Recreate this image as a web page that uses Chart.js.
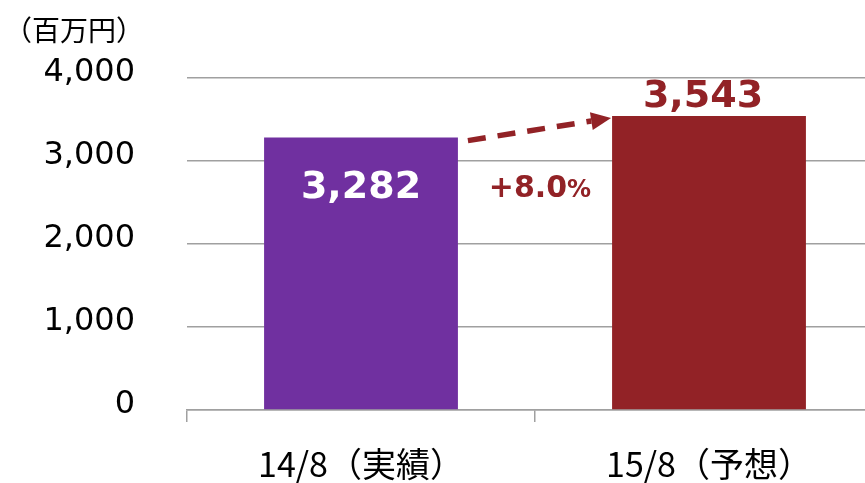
<!DOCTYPE html>
<html>
<head>
<meta charset="utf-8">
<script src="https://cdn.jsdelivr.net/npm/chart.js@4/dist/chart.umd.min.js"></script>
<style>
  html, body { margin: 0; padding: 0; background: #ffffff; overflow: hidden; }
  #wrap { position: relative; width: 883px; height: 483px; }
</style>
</head>
<body>
<div id="wrap"><canvas id="c"></canvas></div>
<script>
const categories = ['14/8（実績）', '15/8（予想）'];
const salesValues = [3282, 3543];
const barColors = ['#7030A0', '#922226'];
const valueLabels = ['3,282', '3,543'];
const growthLabel = '+8.0';
const growthUnit = '%';
const unitLabel = '（百万円）';
const yTicks = [0, 1000, 2000, 3000, 4000];

const DARK_RED = '#922226';

const overlayPlugin = {
  id: 'overlay',
  afterDatasetsDraw(chart) {
    const ctx = chart.ctx;
    const meta = chart.getDatasetMeta(0);
    const b1 = meta.data[0], b2 = meta.data[1];
    const w1 = b1.width / 2, w2 = b2.width / 2;
    ctx.save();
    // value labels
    ctx.textAlign = 'center';
    ctx.textBaseline = 'middle';
    ctx.font = 'bold 38px "DejaVu Sans"';
    ctx.fillStyle = '#ffffff';
    ctx.fillText(valueLabels[0], b1.x, b1.y + 51);
    ctx.fillStyle = DARK_RED;
    ctx.fillText(valueLabels[1], b2.x - 6, b2.y - 19);

    // dashed arrow
    const x0 = b1.x + w1 + 10, y0 = b1.y + 3;
    const x1 = b2.x - w2 - 1, y1 = b2.y + 2;
    const ang = Math.atan2(y1 - y0, x1 - x0);
    const headLen = 20, headW = 9;
    const lx = x1 - Math.cos(ang) * headLen, ly = y1 - Math.sin(ang) * headLen;
    ctx.strokeStyle = DARK_RED;
    ctx.lineWidth = 5.5;
    ctx.setLineDash([18, 12]);
    ctx.beginPath();
    ctx.moveTo(x0, y0);
    ctx.lineTo(lx, ly);
    ctx.stroke();
    ctx.setLineDash([]);
    ctx.fillStyle = DARK_RED;
    ctx.beginPath();
    ctx.moveTo(x1, y1);
    ctx.lineTo(lx - Math.sin(ang) * headW, ly + Math.cos(ang) * headW);
    ctx.lineTo(lx + Math.sin(ang) * headW, ly - Math.cos(ang) * headW);
    ctx.closePath();
    ctx.fill();

    // growth label
    const midX = (b1.x + w1 + b2.x - w2) / 2 + 5;
    const gy = b1.y + 49;
    ctx.font = 'bold 30px "DejaVu Sans"';
    const wMain = ctx.measureText(growthLabel).width;
    ctx.font = 'bold 24px "DejaVu Sans"';
    const wUnit = ctx.measureText(growthUnit).width;
    const startX = midX - (wMain + wUnit) / 2;
    ctx.textAlign = 'left';
    ctx.textBaseline = 'alphabetic';
    ctx.font = 'bold 30px "DejaVu Sans"';
    ctx.fillText(growthLabel, startX, gy + 10);
    ctx.font = 'bold 24px "DejaVu Sans"';
    ctx.fillText(growthUnit, startX + wMain, gy + 10);

    // unit label
    ctx.fillStyle = '#000000';
    ctx.font = '28px "Noto Sans CJK JP"';
    ctx.textAlign = 'left';
    ctx.textBaseline = 'middle';
    ctx.fillText(unitLabel, 4, 30);
    ctx.restore();
  }
};

new Chart(document.getElementById('c'), {
  type: 'bar',
  data: {
    labels: categories,
    datasets: [{
      data: salesValues,
      backgroundColor: barColors,
      borderWidth: 0,
      barPercentage: 0.557,
      categoryPercentage: 1.0
    }]
  },
  options: {
    responsive: true,
    maintainAspectRatio: false,
    animation: false,
    layout: { padding: { top: 78, right: 0, left: 0, bottom: 0 } },
    plugins: { legend: { display: false }, tooltip: { enabled: false } },
    scales: {
      x: {
        grid: { display: true, drawOnChartArea: false, drawTicks: true, tickLength: 12, color: '#a0a0a0', lineWidth: 1.5 },
        border: { display: true, color: '#a0a0a0', width: 1.5 },
        ticks: { color: '#000000', font: { family: '"Noto Sans CJK JP"', size: 34 }, padding: 22, maxRotation: 0 },
        afterFit(scale) { scale.height = 73; }
      },
      y: {
        min: 0, max: 4000,
        afterBuildTicks(scale) { scale.ticks = yTicks.map(v => ({ value: v })); },
        grid: { color: '#a0a0a0', lineWidth: 1.5, drawTicks: false },
        border: { display: false },
        ticks: {
          color: '#000000',
          font: { family: '"DejaVu Sans"', size: 32 },
          padding: 52,
          labelOffset: -5,
          callback: (v) => v.toLocaleString('en-US')
        },
        afterFit(scale) { scale.width = 187; }
      }
    }
  },
  plugins: [overlayPlugin]
});
</script>
</body>
</html>
